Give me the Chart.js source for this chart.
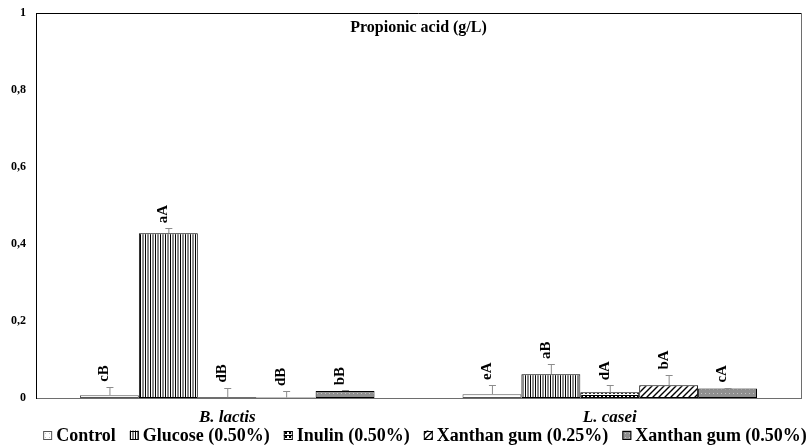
<!DOCTYPE html>
<html>
<head>
<meta charset="utf-8">
<script src="https://cdn.jsdelivr.net/npm/chart.js@4/dist/chart.umd.min.js"></script>
<style>
  html, body { margin: 0; padding: 0; background: #fff; }
  #wrap { width: 806px; height: 445px; }
</style>
</head>
<body>
<div id="wrap"><canvas id="propChart"></canvas></div>
<script>
// Propionic acid (g/L) per strain and carbon source
const strains = ['B. lactis', 'L. casei'];
const seriesNames = ['Control', 'Glucose (0.50%)', 'Inulin (0.50%)', 'Xanthan gum (0.25%)', 'Xanthan gum (0.50%)'];

const control = [0.007, 0.010];
const glucose = [0.428, 0.062];
const inulin = [0.002, 0.015];
const xanthan025 = [0.001, 0.033];
const xanthan050 = [0.018, 0.025];

// standard deviations (upper whisker only)
const controlSd = [0.022, 0.024];
const glucoseSd = [0.013, 0.026];
const inulinSd = [0.025, 0.018];
const xanthan025Sd = [0.017, 0.028];
const xanthan050Sd = [0.002, 0.002];

// significance letters
const controlLetters = ['cB', 'eA'];
const glucoseLetters = ['aA', 'aB'];
const inulinLetters = ['dB', 'dA'];
const xanthan025Letters = ['dB', 'bA'];
const xanthan050Letters = ['bB', 'cA'];

const yTicks = [0, 0.2, 0.4, 0.6, 0.8, 1];

const serif = "'Liberation Serif', 'Times New Roman', serif";

function makePattern(size, draw) {
  const c = document.createElement('canvas');
  c.width = size; c.height = size;
  const g = c.getContext('2d');
  draw(g, size);
  return g.createPattern(c, 'repeat');
}

const patControl = makePattern(4, (g) => {
  g.fillStyle = '#fff'; g.fillRect(0, 0, 4, 4);
  g.fillStyle = '#c8c8c8'; g.fillRect(1, 1, 1, 1);
});
const patGlucose = makePattern(5, (g) => {
  g.fillStyle = '#fff'; g.fillRect(0, 0, 5, 5);
  g.fillStyle = '#000'; g.fillRect(0, 0, 1, 5);
  g.fillStyle = '#8a8a8a'; g.fillRect(2, 0, 2, 5);
});
const patInulin = makePattern(4, (g) => {
  g.fillStyle = '#fff'; g.fillRect(0, 0, 4, 4);
  g.fillStyle = '#000'; g.fillRect(1, 0, 2, 2);
  g.fillRect(0, 3, 4, 1);
});
const patXan025 = makePattern(6, (g) => {
  g.fillStyle = '#fff'; g.fillRect(0, 0, 6, 6);
  g.strokeStyle = '#000'; g.lineWidth = 1.4;
  g.beginPath();
  g.moveTo(-1, 7); g.lineTo(7, -1);
  g.moveTo(-4, 4); g.lineTo(4, -4);
  g.moveTo(2, 10); g.lineTo(10, 2);
  g.stroke();
});
const patXan050 = makePattern(4, (g) => {
  g.fillStyle = '#8f8f8f'; g.fillRect(0, 0, 4, 4);
  g.fillStyle = '#c4c4c4'; g.fillRect(1, 1, 1, 1);
});

const datasets = [
  { label: seriesNames[0], data: control, sd: controlSd, letters: controlLetters, backgroundColor: patControl, borderColor: '#555' },
  { label: seriesNames[1], data: glucose, sd: glucoseSd, letters: glucoseLetters, backgroundColor: patGlucose, borderColor: '#000' },
  { label: seriesNames[2], data: inulin, sd: inulinSd, letters: inulinLetters, backgroundColor: patInulin, borderColor: '#000' },
  { label: seriesNames[3], data: xanthan025, sd: xanthan025Sd, letters: xanthan025Letters, backgroundColor: patXan025, borderColor: '#000' },
  { label: seriesNames[4], data: xanthan050, sd: xanthan050Sd, letters: xanthan050Letters, backgroundColor: patXan050, borderColor: '#000' }
].map(d => Object.assign(d, { borderWidth: 1, borderSkipped: false, categoryPercentage: 0.77, barPercentage: 1.0 }));

// error whiskers + rotated letters above them
const errorBars = {
  id: 'errorBars',
  afterDatasetsDraw(chart) {
    const ctx = chart.ctx;
    const y = chart.scales.y;
    chart.data.datasets.forEach((ds, i) => {
      const meta = chart.getDatasetMeta(i);
      meta.data.forEach((bar, j) => {
        const x = bar.x;
        const top = y.getPixelForValue(ds.data[j] + ds.sd[j]);
        const base = y.getPixelForValue(ds.data[j]);
        ctx.save();
        ctx.strokeStyle = '#8c8c8c';
        ctx.lineWidth = 1;
        ctx.beginPath();
        ctx.moveTo(x + 0.5, base);
        ctx.lineTo(x + 0.5, Math.round(top) + 0.5);
        ctx.moveTo(x - 3, Math.round(top) + 0.5);
        ctx.lineTo(x + 4, Math.round(top) + 0.5);
        ctx.stroke();
        ctx.translate(x - 5, top - 5);
        ctx.rotate(-Math.PI / 2);
        ctx.fillStyle = '#000';
        ctx.font = 'bold 15px ' + serif;
        ctx.textAlign = 'left';
        ctx.textBaseline = 'middle';
        ctx.fillText(ds.letters[j], 0, 0);
        ctx.restore();
      });
    });
  }
};

// plot box, in-plot title and the pattern legend under the axis
const frame = {
  id: 'frame',
  afterDraw(chart) {
    const { ctx, chartArea: a } = chart;
    ctx.save();
    ctx.lineWidth = 1;
    ctx.strokeStyle = '#000';
    ctx.beginPath();
    ctx.moveTo(a.left, a.top + 0.5);
    ctx.lineTo(a.right, a.top + 0.5);
    ctx.stroke();
    ctx.strokeStyle = '#6e6e6e';
    ctx.beginPath();
    ctx.moveTo(a.right + 0.5, a.top);
    ctx.lineTo(a.right + 0.5, a.bottom);
    ctx.stroke();

    ctx.fillStyle = '#000';
    ctx.font = 'bold 16px ' + serif;
    ctx.textAlign = 'center';
    ctx.textBaseline = 'middle';
    ctx.fillText('Propionic acid (g/L)', (a.left + a.right) / 2, a.top + 15);

    // legend
    const box = 9, boxGap = 4, itemGap = 14;
    ctx.font = 'bold 18px ' + serif;
    const ds = chart.data.datasets;
    const widths = ds.map(d => box + boxGap + ctx.measureText(d.label).width);
    const total = widths.reduce((s, w) => s + w, 0) + itemGap * (ds.length - 1);
    let x = 425 - total / 2;
    const ly = chart.height - 10;
    ctx.textAlign = 'left';
    ds.forEach((d, i) => {
      ctx.fillStyle = d.backgroundColor;
      ctx.fillRect(x, ly - box / 2, box, box);
      ctx.strokeStyle = d.borderColor;
      ctx.strokeRect(x + 0.5, Math.round(ly - box / 2) + 0.5, box - 1, box - 1);
      ctx.fillStyle = '#000';
      ctx.fillText(d.label, x + box + boxGap, ly + 1);
      x += widths[i] + itemGap;
    });
    ctx.restore();
  }
};

new Chart(document.getElementById('propChart'), {
  type: 'bar',
  data: { labels: strains, datasets: datasets },
  options: {
    responsive: true,
    maintainAspectRatio: false,
    animation: false,
    layout: { padding: { top: 13, right: 5, left: 0, bottom: 18 } },
    plugins: {
      title: { display: false },
      tooltip: { enabled: false },
      legend: { display: false }
    },
    scales: {
      x: {
        afterFit(scale) { scale.height = 29; },
        grid: { display: false, drawTicks: false },
        border: { color: '#6e6e6e', width: 1 },
        ticks: {
          color: '#000',
          padding: 9,
          font: { family: serif, size: 17, weight: 'bold', style: 'italic' }
        }
      },
      y: {
        min: 0,
        max: 1,
        afterBuildTicks(scale) { scale.ticks = yTicks.map(v => ({ value: v })); },
        afterFit(scale) {
          scale.width = 36;
          scale.paddingTop = 0;
          scale.paddingBottom = 0;
        },
        grid: { display: false, drawTicks: false },
        border: { color: '#000', width: 1 },
        ticks: {
          color: '#000',
          padding: 10,
          font: { family: serif, size: 12, weight: 'bold' },
          callback: (v) => String(Math.round(v * 10) / 10).replace('.', ',')
        }
      }
    }
  },
  plugins: [errorBars, frame]
});
</script>
</body>
</html>
